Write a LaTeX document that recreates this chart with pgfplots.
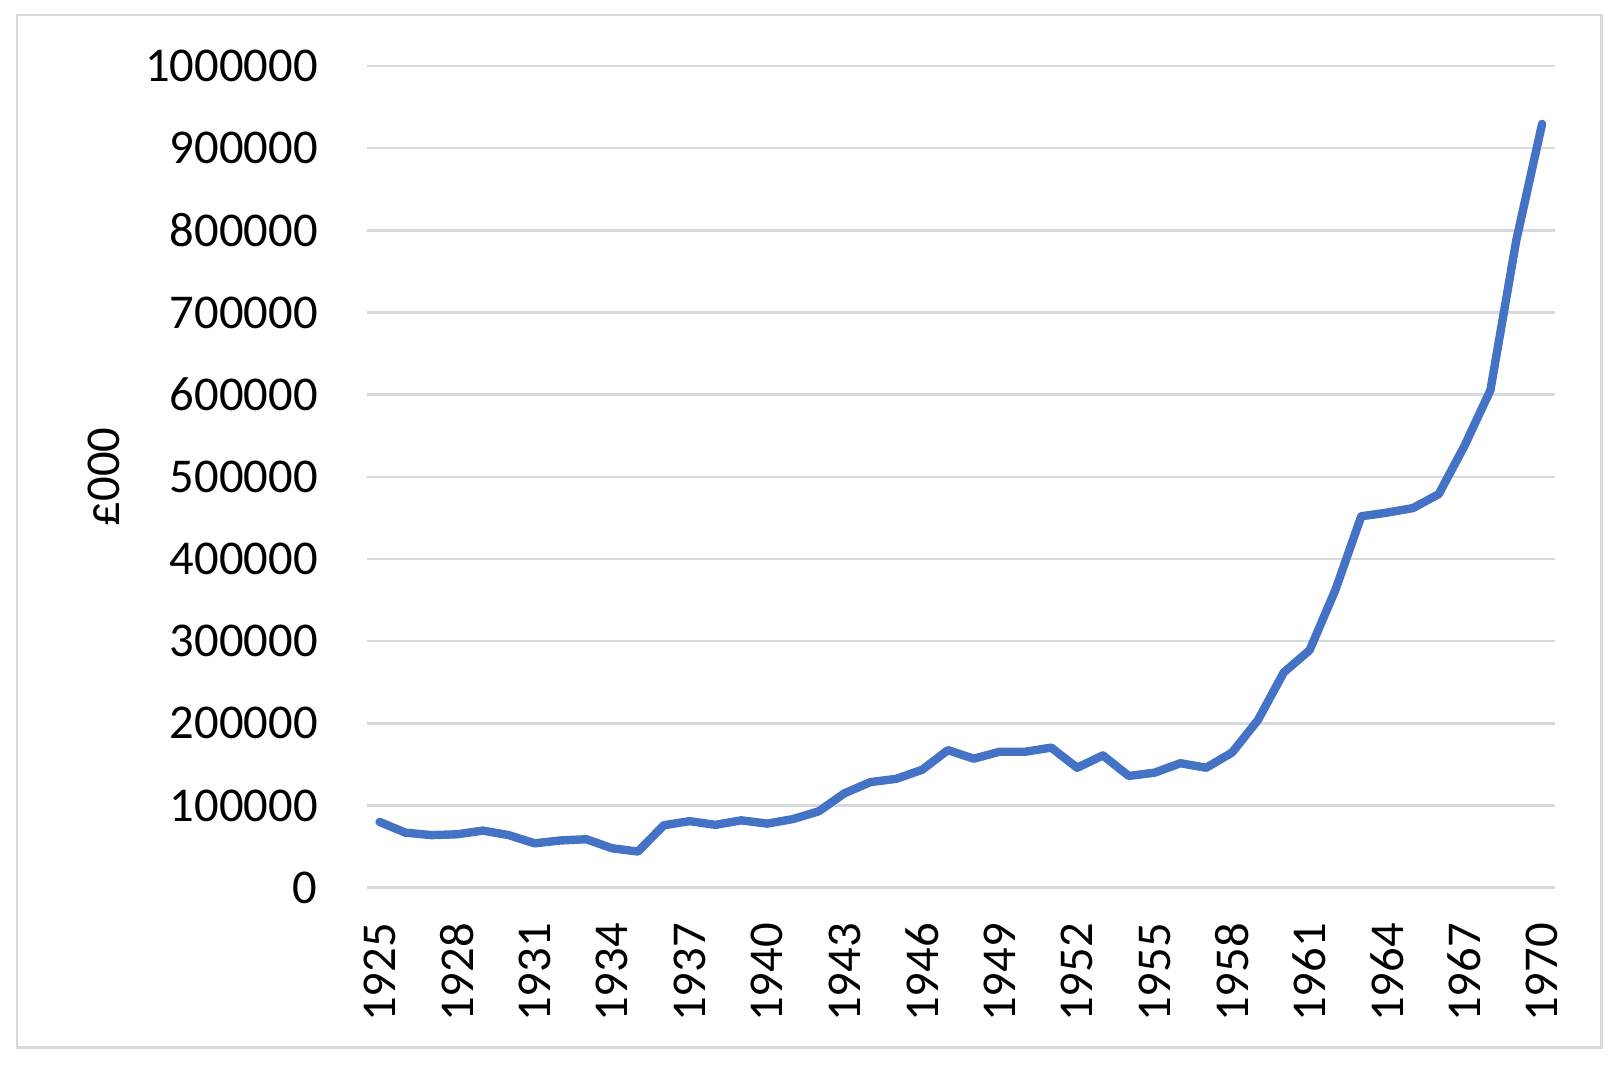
\documentclass[border=0pt]{standalone}
\usepackage{pgfplots}
\pgfplotsset{compat=1.18}
\usepackage{fontspec}
\setmainfont{Carlito}
\definecolor{excelblue}{HTML}{4472C4}
\definecolor{gridgray}{HTML}{D9D9D9}
\begin{document}
\begin{tikzpicture}
\useasboundingbox (-183.35pt,-92.65pt) rectangle (627.15pt,443.85pt);
\draw[gridgray, line width=1.3pt] (-174.85pt,-80pt) rectangle (617.5pt,436.35pt);
\begin{axis}[
  at={(0pt,0pt)}, anchor=origin,
  scale only axis,
  width=594.15pt, height=410.85pt,
  xmin=1924.5, xmax=1970.5,
  ymin=0, ymax=1000000,
  xtick={1925,1928,...,1970},
  ytick={0,100000,...,1000000},
  scaled y ticks=false,
  axis line style={draw=none},
  major tick length=0pt,
  ymajorgrids,
  grid style={gridgray, line width=1.3pt},
  /pgf/number format/assume math mode=true,
  /pgf/number format/1000 sep={},
  /pgf/number format/fixed,
  tick label style={font=\fontsize{24.3}{29}\selectfont},
  yticklabel style={inner sep=0pt, anchor=east},
  yticklabel shift=24.35pt,
  xticklabel style={inner sep=0pt, rotate=90, anchor=east},
  xticklabel shift=17.5pt,
  ylabel={£000},
  ylabel style={at={(axis description cs:-0.2211,0.5)}, anchor=center, rotate=0, font=\fontsize{24.3}{29}\selectfont, inner sep=0pt},
  clip=false,
]
\addplot[excelblue, line width=4.2pt, line join=round, line cap=round] coordinates {
(1925,80000) (1926,67000) (1927,64000) (1928,65000) (1929,69500)
(1930,64000) (1931,54000) (1932,57500) (1933,59000) (1934,48000)
(1935,44000) (1936,76000) (1937,81000) (1938,76500) (1939,82000)
(1940,78000) (1941,83500) (1942,93000) (1943,115000) (1944,128500)
(1945,132500) (1946,143500) (1947,167500) (1948,157000) (1949,165500)
(1950,165500) (1951,170500) (1952,146000) (1953,161000) (1954,136000)
(1955,140000) (1956,151500) (1957,146000) (1958,164500) (1959,204000)
(1960,262000) (1961,289000) (1962,362500) (1963,452000) (1964,456500)
(1965,462000) (1966,479000) (1967,538000) (1968,605500) (1969,787700)
(1970,929500)
};
\end{axis}
\end{tikzpicture}
\end{document}
